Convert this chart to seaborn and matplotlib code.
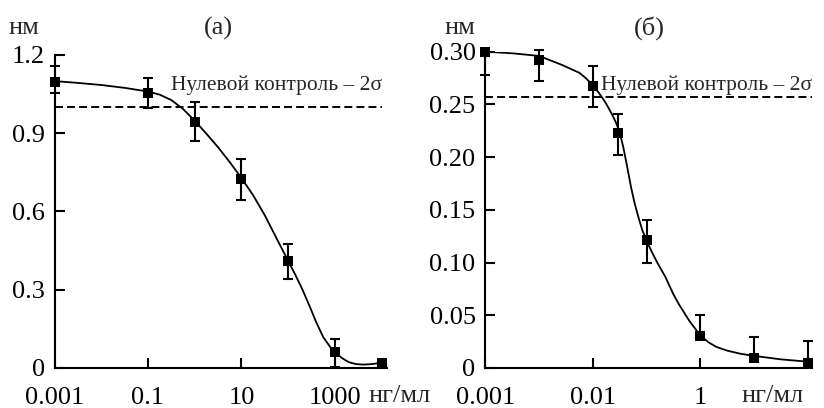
import numpy as np
import matplotlib
matplotlib.use("Agg")
import matplotlib.pyplot as plt
import seaborn as sns

# --- данные, панель (а) ---
conc_a = [0.001, 0.1, 1, 10, 100, 1000, 10000]
signal_a = [1.098, 1.053, 0.944, 0.725, 0.409, 0.060, 0.019]
err_a_low = [0.045, 0.055, 0.073, 0.081, 0.068, 0.058, 0.0]
err_a_up = [0.060, 0.060, 0.077, 0.075, 0.066, 0.051, 0.0]
curve_a_log = [-3, -2.5, -2, -1.5, -1, -0.75, -0.5, -0.25, 0, 0.25, 0.5, 0.75, 1, 1.25,
               1.5, 1.75, 2, 2.15, 2.3, 2.45, 2.6, 2.75, 2.9, 3, 3.15, 3.3, 3.45, 3.6, 3.8, 4]
curve_a_y = [1.10, 1.093, 1.085, 1.074, 1.060, 1.048, 1.027, 0.993, 0.948, 0.898, 0.846,
             0.789, 0.728, 0.662, 0.585, 0.497, 0.410, 0.358, 0.302, 0.240, 0.175, 0.118,
             0.080, 0.062, 0.038, 0.022, 0.015, 0.013, 0.015, 0.021]
cutoff_a = 1.0
xticks_a = [0.001, 0.1, 10, 1000]
xlabels_a = ["0.001", "0.1", "10", "1000"]
yticks_a = [0, 0.3, 0.6, 0.9, 1.2]
ylabels_a = ["0", "0.3", "0.6", "0.9", "1.2"]

# --- данные, панель (б) ---
conc_b = [0.0001, 0.001, 0.01, 0.03, 0.1, 1, 10, 100]
signal_b = [0.300, 0.292, 0.2675, 0.2232, 0.1214, 0.030, 0.0092, 0.0045]
err_b_low = [0.022, 0.0196, 0.0202, 0.0215, 0.0221, 0.0, 0.0, 0.0]
err_b_up = [0.0, 0.010, 0.019, 0.0177, 0.0193, 0.0206, 0.0206, 0.0209]
curve_b_log = [-4, -3.5, -3, -2.57, -2.25, -2.12, -2, -1.88, -1.76, -1.64, -1.57, -1.5,
               -1.43, -1.36, -1.29, -1.22, -1.15, -1.08, -1.0, -0.9, -0.8, -0.65, -0.5,
               -0.4, -0.2, 0, 0.15, 0.3, 0.5, 0.75, 1.0, 1.5, 2.0]
curve_b_y = [0.300, 0.2985, 0.296, 0.2874, 0.280, 0.2745, 0.268, 0.2605, 0.2515, 0.2405,
             0.233, 0.224, 0.209, 0.191, 0.172, 0.156, 0.143, 0.131, 0.121, 0.110, 0.100,
             0.0865, 0.070, 0.0607, 0.0445, 0.031, 0.0245, 0.020, 0.0165, 0.0135, 0.0115,
             0.0082, 0.006]
cutoff_b = 0.2573
xticks_b = [0.0001, 0.01, 1]
xlabels_b = ["0.001", "0.01", "1"]
yticks_b = [0, 0.05, 0.10, 0.15, 0.20, 0.25, 0.30]
ylabels_b = ["0", "0.05", "0.10", "0.15", "0.20", "0.25", "0.30"]

sns.set_theme(style="ticks")
plt.rcParams['font.family'] = ['Liberation Serif', 'DejaVu Serif']

fig = plt.figure(figsize=(8.24, 4.08), dpi=100)
ax_a = fig.add_axes([54.5 / 824, 40 / 408, 332.2 / 824, 313 / 408])
ax_b = fig.add_axes([485.3 / 824, 40 / 408, 326.7 / 824, 316.3 / 408])


def draw_panel(ax, conc, signal, lo, up, clog, cy, cutoff, xmax_frac):
    sns.lineplot(x=np.power(10.0, clog), y=cy, ax=ax, color='black', lw=1.3,
                 sort=False, estimator=None)
    ax.errorbar(conc, signal, yerr=[lo, up], fmt='none', ecolor='black',
                elinewidth=1.5, capsize=3.8, capthick=1.5, clip_on=False)
    sns.scatterplot(x=conc, y=signal, ax=ax, marker='s', s=55, color='black',
                    edgecolor='black', linewidth=0, clip_on=False, zorder=5)
    ax.axhline(cutoff, xmin=0, xmax=xmax_frac, color='black', lw=1.4,
               dashes=(4.1, 2.1))
    ax.set_xscale('log')
    for s in ['top', 'right']:
        ax.spines[s].set_visible(False)
    for s in ['left', 'bottom']:
        ax.spines[s].set_linewidth(1.5)
        ax.spines[s].set_color('black')
    ax.tick_params(direction='in', length=7.2, width=1.5, labelsize=19,
                   colors='black')
    ax.tick_params(axis='x', pad=14)
    ax.tick_params(axis='y', pad=7)
    ax.set_facecolor('white')


draw_panel(ax_a, conc_a, signal_a, err_a_low, err_a_up, curve_a_log, curve_a_y,
           cutoff_a, 0.985)
ax_a.set_xlim(0.001, 10 ** 4.106)
ax_a.set_ylim(0, 1.2)
ax_a.set_xticks(xticks_a, xlabels_a)
ax_a.set_yticks(yticks_a, ylabels_a)
ax_a.minorticks_off()
ax_a.text(0.985, 0.904, "Нулевой контроль – 2σ", transform=ax_a.transAxes,
          ha='right', va='center', fontsize=15.5)

draw_panel(ax_b, conc_b, signal_b, err_b_low, err_b_up, curve_b_log, curve_b_y,
           cutoff_b, 1.0)
ax_b.set_xlim(0.0001, 10 ** 2.08)
ax_b.set_ylim(0, 0.30)
ax_b.set_xticks(xticks_b, xlabels_b)
ax_b.set_yticks(yticks_b, ylabels_b)
ax_b.minorticks_off()
ax_b.text(1.0, 0.895, "Нулевой контроль – 2σ", transform=ax_b.transAxes,
          ha='right', va='center', fontsize=15.5)

# подписи осей и панелей
fig.text(24 / 824, 1 - 28 / 408, "нм", ha='center', va='center', fontsize=19)
fig.text(460 / 824, 1 - 28 / 408, "нм", ha='center', va='center', fontsize=19)
fig.text(218 / 824, 1 - 28 / 408, "(а)", ha='center', va='center', fontsize=19)
fig.text(649 / 824, 1 - 28 / 408, "(б)", ha='center', va='center', fontsize=19)
fig.text(400 / 824, 1 - 396 / 408, "нг/мл", ha='center', va='center', fontsize=19)
fig.text(773 / 824, 1 - 396 / 408, "нг/мл", ha='center', va='center', fontsize=19)

fig.savefig("out.png", dpi=100, facecolor='white')
